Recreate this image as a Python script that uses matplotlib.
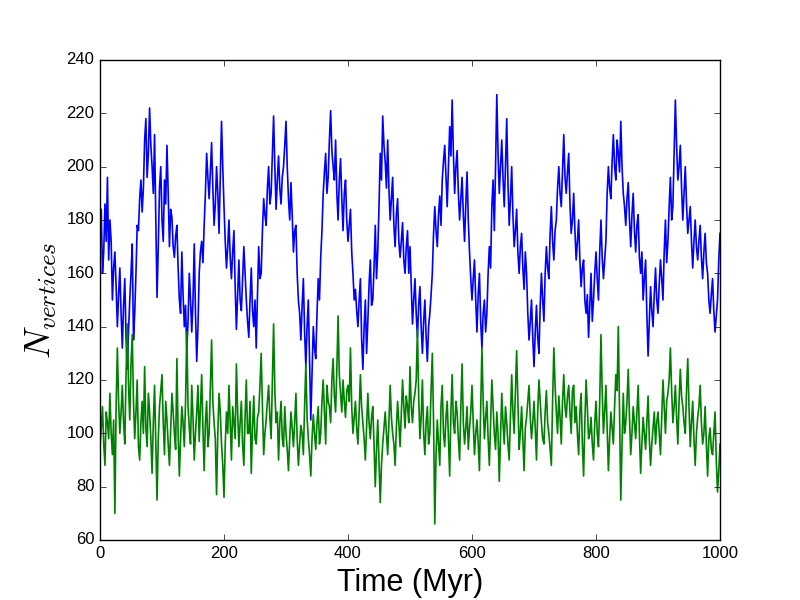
import numpy as np
import matplotlib
matplotlib.use('Agg')
import matplotlib.pyplot as plt

time_myr = np.arange(0, 1001, 2)

n_blue = [
    175, 184, 160, 168, 186, 172, 196, 165, 180, 172, 150, 162, 168, 155, 140, 152, 162, 145, 132, 148, 158, 136, 124, 138, 150,
    160, 171, 135, 145, 160, 178, 176, 188, 195, 183, 192, 210, 218, 196, 205, 222, 208, 200, 190, 212, 180, 151, 170, 192, 200,
    180, 172, 195, 186, 208, 190, 170, 184, 181, 170, 166, 174, 178, 162, 150, 145, 168, 152, 140, 148, 131, 142, 160, 150, 138,
    150, 171, 145, 127, 140, 160, 168, 172, 164, 178, 190, 205, 196, 188, 198, 209, 192, 178, 186, 200, 190, 175, 196, 217, 200,
    185, 172, 162, 170, 180, 166, 158, 168, 176, 155, 139, 152, 165, 150, 146, 158, 170, 160, 150, 142, 136, 150, 162, 146, 140,
    150, 132, 152, 170, 158, 160, 176, 188, 182, 178, 192, 200, 186, 190, 205, 219, 200, 184, 195, 204, 192, 186, 196, 200, 208,
    217, 200, 188, 180, 194, 182, 168, 176, 178, 160, 150, 145, 135, 148, 158, 138, 125, 140, 150, 128, 105, 122, 140, 132, 128,
    145, 158, 150, 166, 176, 190, 198, 205, 190, 196, 210, 221, 206, 200, 195, 210, 190, 180, 195, 203, 188, 176, 190, 195, 180,
    172, 178, 184, 168, 160, 150, 154, 146, 140, 150, 158, 135, 124, 140, 150, 130, 142, 156, 165, 148, 150, 162, 178, 158, 168,
    185, 205, 195, 219, 208, 202, 192, 210, 192, 180, 188, 196, 178, 170, 182, 188, 172, 166, 172, 179, 165, 160, 170, 176, 160,
    170, 155, 141, 150, 158, 145, 136, 148, 155, 140, 130, 142, 150, 136, 127, 140, 145, 152, 160, 175, 185, 176, 170, 182, 189,
    178, 195, 202, 208, 196, 185, 200, 215, 204, 225, 205, 190, 200, 206, 190, 180, 188, 196, 182, 172, 186, 198, 180, 168, 158,
    150, 158, 165, 150, 138, 152, 160, 142, 132, 145, 150, 138, 145, 160, 170, 162, 185, 195, 176, 200, 227, 205, 190, 200, 210,
    196, 185, 200, 218, 194, 178, 188, 200, 182, 170, 176, 184, 168, 160, 170, 175, 162, 154, 168, 160, 145, 135, 142, 150, 136,
    125, 138, 148, 136, 130, 148, 160, 150, 142, 160, 170, 162, 158, 175, 185, 172, 165, 176, 180, 192, 200, 190, 185, 198, 212,
    196, 190, 198, 205, 186, 175, 180, 190, 176, 165, 172, 180, 165, 155, 162, 165, 150, 145, 152, 136, 148, 160, 142, 150, 160,
    168, 158, 150, 168, 180, 166, 158, 165, 172, 190, 200, 192, 188, 202, 212, 200, 195, 210, 205, 198, 217, 200, 190, 185, 178,
    188, 194, 180, 170, 182, 190, 176, 168, 178, 182, 166, 160, 168, 150, 158, 165, 145, 129, 142, 155, 146, 140, 152, 162, 150,
    145, 156, 165, 158, 150, 168, 180, 164, 172, 185, 196, 180, 185, 205, 225, 208, 195, 200, 208, 192, 180, 190, 200, 186, 175,
    180, 185, 172, 162, 172, 180, 170, 165, 172, 178, 166, 158, 168, 175, 164, 160, 150, 145, 152, 158, 146, 138, 144, 150, 165,
    175,
]

n_green = [
    95, 102, 110, 96, 88, 108, 104, 98, 115, 100, 92, 105, 70, 110, 132, 112, 100, 108, 118, 104, 96, 122, 141, 118, 105,
    126, 137, 112, 98, 108, 120, 95, 90, 104, 112, 100, 125, 102, 95, 115, 108, 98, 85, 104, 118, 96, 75, 98, 110, 116,
    122, 104, 92, 112, 105, 96, 88, 102, 115, 108, 100, 94, 128, 100, 84, 98, 110, 104, 95, 112, 138, 110, 102, 96, 118,
    106, 90, 100, 108, 118, 97, 110, 122, 102, 86, 104, 112, 95, 100, 118, 135, 112, 104, 98, 77, 100, 115, 108, 96, 88,
    76, 96, 108, 100, 118, 104, 90, 110, 104, 98, 126, 108, 95, 104, 112, 96, 88, 106, 120, 100, 100, 112, 85, 102, 114,
    98, 96, 106, 108, 118, 130, 110, 92, 100, 105, 112, 118, 106, 98, 120, 141, 116, 104, 108, 90, 104, 112, 98, 95, 110,
    100, 94, 86, 98, 108, 102, 95, 104, 115, 98, 88, 96, 103, 100, 92, 110, 126, 106, 98, 92, 84, 98, 107, 100, 94,
    104, 110, 96, 100, 112, 120, 108, 96, 118, 112, 110, 104, 120, 128, 114, 108, 124, 144, 122, 115, 108, 120, 112, 106, 116,
    118, 112, 132, 110, 100, 106, 112, 102, 96, 108, 122, 110, 104, 98, 90, 102, 115, 104, 98, 106, 110, 96, 80, 94, 105,
    90, 74, 88, 96, 102, 108, 100, 92, 104, 118, 106, 100, 96, 88, 102, 112, 104, 95, 108, 120, 110, 102, 114, 110, 104,
    125, 110, 104, 112, 115, 120, 139, 114, 98, 106, 120, 100, 92, 104, 110, 96, 100, 116, 130, 104, 66, 92, 105, 96, 88,
    110, 118, 100, 95, 106, 112, 98, 84, 108, 122, 104, 100, 112, 108, 98, 90, 110, 126, 104, 96, 102, 110, 94, 102, 108,
    118, 104, 92, 100, 105, 96, 86, 110, 132, 112, 98, 106, 112, 98, 88, 104, 120, 110, 100, 94, 108, 100, 82, 98, 115,
    104, 96, 110, 104, 96, 90, 106, 122, 108, 100, 116, 131, 112, 94, 100, 110, 98, 86, 102, 106, 112, 118, 106, 98, 104,
    112, 102, 90, 108, 120, 112, 104, 98, 96, 108, 116, 104, 100, 94, 88, 112, 132, 118, 108, 100, 114, 106, 96, 112, 122,
    110, 106, 114, 118, 108, 100, 116, 118, 104, 110, 100, 92, 108, 115, 96, 84, 104, 120, 110, 98, 100, 106, 96, 90, 104,
    112, 100, 95, 112, 137, 116, 100, 108, 118, 102, 86, 98, 108, 102, 96, 110, 122, 116, 140, 108, 75, 96, 115, 100, 104,
    112, 124, 106, 92, 100, 110, 104, 98, 108, 118, 100, 85, 96, 106, 100, 94, 104, 114, 98, 88, 96, 102, 108, 96, 104,
    108, 100, 92, 106, 120, 110, 100, 112, 115, 120, 132, 116, 104, 110, 118, 106, 96, 112, 124, 114, 110, 104, 100, 116, 128,
    110, 95, 104, 112, 98, 88, 100, 106, 110, 118, 104, 96, 100, 110, 96, 84, 98, 102, 94, 92, 100, 108, 90, 78, 86,
    96,
]

plt.style.use('classic')
plt.rcParams['font.family'] = ['Liberation Sans', 'DejaVu Sans']

fig = plt.figure(figsize=(8, 6), dpi=100, facecolor='white')
ax = fig.add_subplot(111)

ax.plot(time_myr, n_blue, color='b', lw=1.2)
ax.plot(time_myr, n_green, color='g', lw=1.2)

ax.set_xlim(0, 1000)
ax.set_ylim(60, 240)
ax.set_xticks(np.arange(0, 1001, 200))
ax.set_yticks(np.arange(60, 241, 20))
ax.set_xlabel('Time (Myr)', fontsize=22)
ax.set_ylabel('$N_{vertices}$', fontsize=26)

fig.savefig('out.png', dpi=100, facecolor='white')
